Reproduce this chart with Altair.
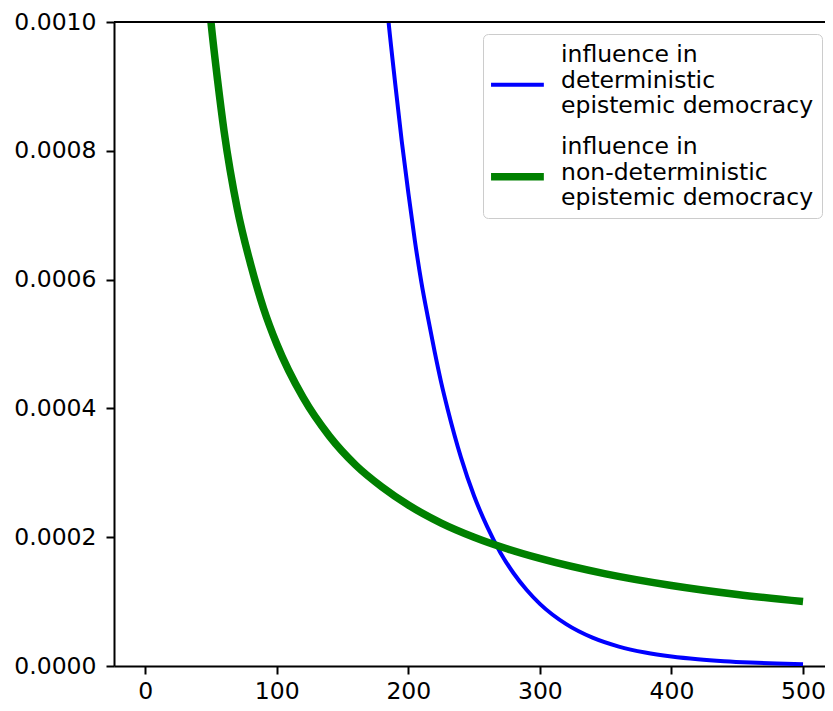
import altair as alt
import pandas as pd

# Series
det_label = "influence in|deterministic|epistemic democracy"
nondet_label = "influence in|non-deterministic|epistemic democracy"

det_x = [180, 184, 190, 195, 200, 205, 210, 215, 220, 225, 230, 240, 250, 260, 270,
         280, 290, 300, 320, 340, 360, 380, 400, 420, 440, 460, 480, 500]
det_y = [0.00111, 0.00102, 0.000905, 0.000815, 0.000735, 0.000660, 0.000595, 0.000540,
         0.000488, 0.000440, 0.000398, 0.000324, 0.000264, 0.000216, 0.000176,
         0.000144, 0.000118, 0.0000965, 0.0000650, 0.0000440, 0.0000302, 0.0000210,
         0.0000148, 0.0000105, 0.0000075, 0.0000054, 0.0000039, 0.0000028]

nondet_x = [45, 50, 55, 60, 70, 80, 90, 100, 120, 140, 160, 180, 200, 225, 250, 275,
            300, 350, 400, 450, 500]
nondet_y = [0.00111, 0.00100, 0.00091, 0.00083, 0.00071, 0.000625, 0.000555, 0.00050,
            0.000417, 0.000357, 0.000312, 0.000278, 0.00025, 0.000222, 0.0002,
            0.000182, 0.000167, 0.000143, 0.000125, 0.000111, 0.0001]

x_ticks = [0, 100, 200, 300, 400, 500]
y_ticks = [0, 0.0002, 0.0004, 0.0006, 0.0008, 0.001]
y_top = 0.001

series_order = [det_label, nondet_label]
series_colors = ["#0000ff", "#008000"]
series_widths = [4, 7.5]

df = pd.concat([
    pd.DataFrame({"n": det_x, "v": det_y, "series": det_label}),
    pd.DataFrame({"n": nondet_x, "v": nondet_y, "series": nondet_label}),
], ignore_index=True)

FONT = "DejaVu Sans"
FS = 23.5

legend = alt.Legend(
    title=None,
    orient="none",
    legendX=369,
    legendY=12,
    labelExpr="split(datum.label, '|')",
    labelFont=FONT,
    labelFontSize=FS,
    labelColor="black",
    labelLimit=0,
    labelOffset=40,
    symbolType="M-1.36,2.7H3.44",
    symbolSize=484,
    rowPadding=14,
    padding=8,
    fillColor="white",
    strokeColor="#cccccc",
    cornerRadius=5,
)

x_enc = alt.X("n:Q",
              scale=alt.Scale(domain=[-23.7, 516.7], nice=False, zero=False),
              axis=alt.Axis(values=x_ticks, title=None, grid=False, format="d",
                            labelFont=FONT, labelFontSize=FS, labelColor="black",
                            tickSize=8, tickWidth=2, tickColor="black",
                            domainColor="black", domainWidth=2, labelPadding=5))
y_enc = alt.Y("v:Q",
              scale=alt.Scale(domain=[0, y_top], nice=False),
              axis=alt.Axis(values=y_ticks, title=None, grid=False, format=".4f",
                            labelFont=FONT, labelFontSize=FS, labelColor="black",
                            tickSize=8, tickWidth=2, tickColor="black",
                            domainColor="black", domainWidth=2, labelPadding=10))

lines = alt.Chart(df).mark_line(clip=True, interpolate="monotone").encode(
    x=x_enc,
    y=y_enc,
    color=alt.Color("series:N",
                    scale=alt.Scale(domain=series_order, range=series_colors),
                    legend=legend),
    strokeWidth=alt.StrokeWidth("series:N",
                                scale=alt.Scale(domain=series_order, range=series_widths),
                                legend=legend),
    order=alt.Order("n:Q"),
)

top_spine = alt.Chart().mark_rule(color="black", strokeWidth=2).encode(
    y=alt.datum(y_top),
)

chart = alt.layer(lines, top_spine).properties(
    width=711,
    height=644,
    autosize=alt.AutoSizeParams(type="none"),
    padding={"left": 106, "top": 14, "right": 0, "bottom": 37},
).configure_view(
    strokeWidth=0,
)

chart.save("out.html", embed_options={"renderer": "svg", "actions": False})
